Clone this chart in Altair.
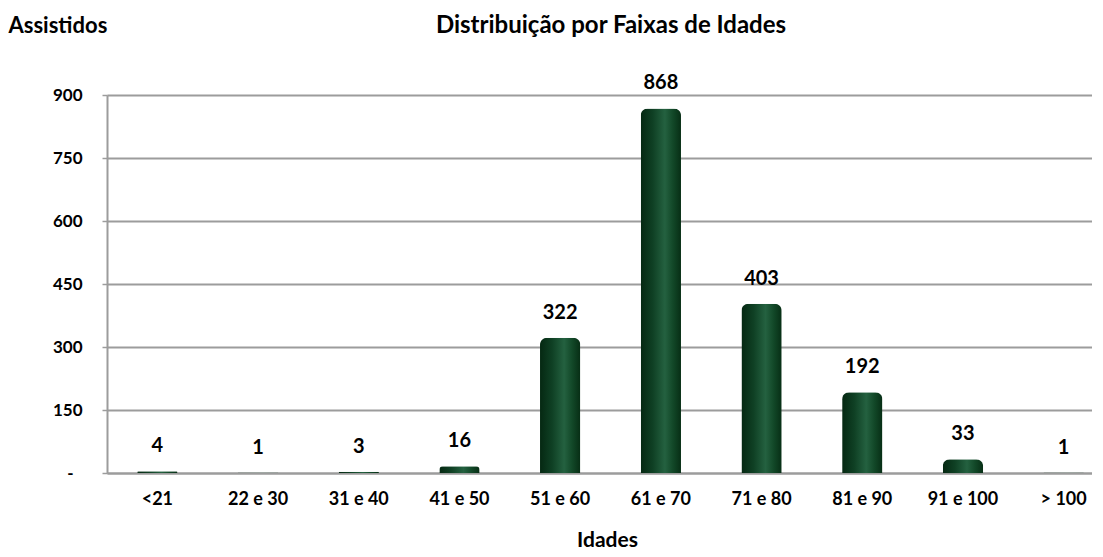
import altair as alt
import pandas as pd

categories = ["<21", "22 e 30", "31 e 40", "41 e 50", "51 e 60",
              "61 e 70", "71 e 80", "81 e 90", "91 e 100", "> 100"]
values = [4, 1, 3, 16, 322, 868, 403, 192, 33, 1]
y_ticks = [0, 150, 300, 450, 600, 750, 900]
title_text = ["Distribuição por Faixas de Idades"]

df = pd.DataFrame({"faixa": categories, "assistidos": values})
tdf = pd.DataFrame({"t": title_text})

FONT = "Lato"
GRID = "#9c9c9c"

grad = alt.Gradient(
    gradient="linear", x1=0, x2=1, y1=0, y2=0,
    stops=[
        alt.GradientStop(color="#052812", offset=0),
        alt.GradientStop(color="#0f4024", offset=0.3),
        alt.GradientStop(color="#246140", offset=0.6),
        alt.GradientStop(color="#124828", offset=0.8),
        alt.GradientStop(color="#072e15", offset=1),
    ],
)

x = alt.X(
    "faixa:N", sort=categories,
    scale=alt.Scale(range=[0, 1007], paddingInner=0.6, paddingOuter=0.3),
    axis=alt.Axis(
        title="Idades", labelAngle=0, ticks=False, labelPadding=17,
        labelFont=FONT, labelFontSize=18, labelFontWeight="bold", labelColor="black",
        domainColor=GRID, domainWidth=2,
        titleFont=FONT, titleFontSize=21, titleFontWeight="bold", titleColor="black",
        titleX=500, titleY=73, titleAlign="center", titleBaseline="alphabetic",
    ),
)

y = alt.Y(
    "assistidos:Q",
    scale=alt.Scale(domain=[0, 900], nice=False),
    axis=alt.Axis(
        values=y_ticks,
        labelExpr="datum.value == 0 ? '-' : datum.label",
        labelFont=FONT, labelFontSize=17, labelFontWeight="bold", labelColor="black",
        labelPadding={"condition": {"test": "datum.value == 0", "value": 29}, "value": 20},
        tickSize=5, tickColor=GRID, tickWidth=1.5,
        domainColor=GRID, domainWidth=2, grid=True, gridColor=GRID, gridWidth=2,
        title="Assistidos", titleAngle=0, titleAlign="left", titleBaseline="alphabetic",
        titleX=-99, titleY=-63, titleFont=FONT, titleFontSize=22,
        titleFontWeight="bold", titleColor="black",
    ),
)

base = alt.Chart(df)
bars = base.mark_bar(fill=grad, cornerRadiusTopLeft=7, cornerRadiusTopRight=7).encode(x=x, y=y)
labels = base.mark_text(
    dy=-19, baseline="alphabetic", font=FONT, fontSize=20, fontWeight="bold", color="black"
).encode(x=x, y=y, text="assistidos:Q")
title = alt.Chart(tdf).mark_text(
    baseline="alphabetic", align="center", font=FONT, fontSize=24, fontWeight="bold", color="black"
).encode(x=alt.value(504), y=alt.value(-62), text="t:N")

chart = (bars + labels + title).properties(
    width=985, height=378,
    autosize=alt.AutoSizeParams(type="none"),
    padding={"left": 99, "top": 87, "right": 0, "bottom": 76},
).configure_view(stroke=None).configure(background="white")

chart.save("out.html", embed_options={"renderer": "svg", "actions": False})
